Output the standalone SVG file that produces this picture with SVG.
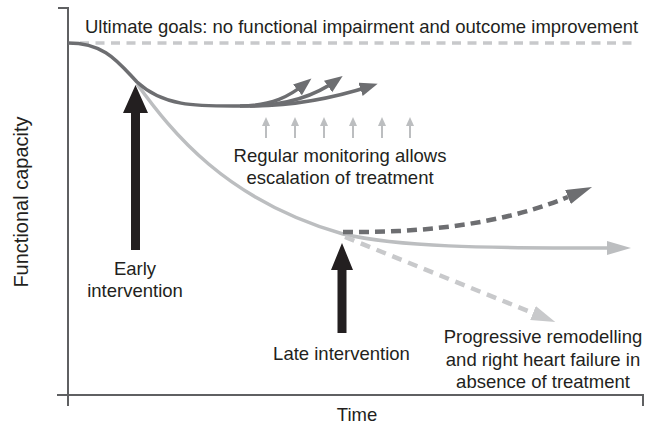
<svg xmlns="http://www.w3.org/2000/svg" width="645" height="428" viewBox="0 0 645 428">
<style>
text{font-family:"Liberation Sans",Arial,sans-serif;fill:#231f20;font-size:18.5px}
.c{text-anchor:middle}
.axis{fill:none;stroke:#5f6062;stroke-width:2}
.dark{fill:none;stroke:#6d6e71;stroke-width:3.5}
.light{fill:none;stroke:#bcbec0;stroke-width:3.5}
.ddash{fill:none;stroke:#6d6e71;stroke-width:4.5;stroke-dasharray:10 6}
.ldash{fill:none;stroke:#c8c9cb;stroke-width:4.5;stroke-dasharray:10 7}
.goal{fill:none;stroke:#c8c9cb;stroke-width:3.5;stroke-dasharray:9 6.5}
.small{fill:none;stroke:#bcbec0;stroke-width:2}
</style>
<defs>
<marker id="hDark" markerUnits="userSpaceOnUse" markerWidth="20" markerHeight="16" refX="11" refY="7" orient="auto"><path d="M0,0 L18,7 L0,14 Z" fill="#6d6e71"/></marker>
<marker id="hLight" markerUnits="userSpaceOnUse" markerWidth="26" markerHeight="16" refX="0" refY="7" orient="auto"><path d="M0,0 L24,7 L0,14 Z" fill="#bcbec0"/></marker>
<marker id="hDdash" markerUnits="userSpaceOnUse" markerWidth="28" markerHeight="16" refX="0" refY="7.5" orient="auto"><path d="M0,0 L26,7.5 L0,15 Z" fill="#6d6e71"/></marker>
<marker id="hLdash" markerUnits="userSpaceOnUse" markerWidth="26" markerHeight="16" refX="0" refY="7.5" orient="auto"><path d="M0,0 L24,7.5 L0,15 Z" fill="#c8c9cb"/></marker>
</defs>

<g id="axes">
<path class="axis" d="M58,8 H68 V406"/>
<path class="axis" d="M57,395 H643 V406"/>
<text class="c" x="357" y="421" font-size="19.5">Time</text>
<text class="c" transform="translate(28,202) rotate(-90)" x="0" y="0" style="font-size:20px">Functional capacity</text>
</g>

<g id="goal">
<path class="goal" d="M80,43 H632"/>
<text x="85" y="33">Ultimate goals: no functional impairment and outcome improvement</text>
</g>

<g id="connectors">
<path class="light" d="M137,84 C172,132 225,200 343,234 C400,247 480,248 607,248" marker-end="url(#hLight)"/>
<path class="ddash" d="M343,232 C420,233 500,225 568,197" marker-end="url(#hDdash)"/>
<path class="ldash" d="M345,237 L533,313" marker-end="url(#hLdash)"/>
<path class="dark" d="M68,43 C105,43 118,62 137,82 C165,108 200,106 245,106"/>
<path class="dark" d="M240,106 C272,106 290,96 306,83" marker-end="url(#hDark)"/>
<path class="dark" d="M245,106 C285,106 315,96 337,80" marker-end="url(#hDark)"/>
<path class="dark" d="M250,106 C300,106 340,96 371,86" marker-end="url(#hDark)"/>
</g>

<g id="monitoring">
<g fill="#bcbec0">
<path class="small" d="M266,138 V124"/><path d="M262,126 L266,117 L270,126 Z"/>
<path class="small" d="M295,138 V124"/><path d="M291,126 L295,117 L299,126 Z"/>
<path class="small" d="M324,138 V124"/><path d="M320,126 L324,117 L328,126 Z"/>
<path class="small" d="M353,138 V124"/><path d="M349,126 L353,117 L357,126 Z"/>
<path class="small" d="M382,138 V124"/><path d="M378,126 L382,117 L386,126 Z"/>
<path class="small" d="M410,138 V124"/><path d="M406,126 L410,117 L414,126 Z"/>
</g>
<text class="c" x="340" y="162">Regular monitoring allows</text>
<text class="c" x="340" y="184">escalation of treatment</text>
</g>

<g id="early">
<path d="M131,250 L131,113 L123,113 L135.5,85 L148,113 L140,113 L140,250 Z" fill="#231f20"/>
<text class="c" x="135" y="275">Early</text>
<text class="c" x="135" y="297">intervention</text>
</g>

<g id="late">
<path d="M337.5,333 L337.5,270 L331,270 L342,243 L353,270 L346.5,270 L346.5,333 Z" fill="#231f20"/>
<text class="c" x="341.5" y="360">Late intervention</text>
</g>

<g id="progressive">
<text class="c" x="543" y="343">Progressive remodelling</text>
<text class="c" x="543" y="366">and right heart failure in</text>
<text class="c" x="543" y="388">absence of treatment</text>
</g>
</svg>
